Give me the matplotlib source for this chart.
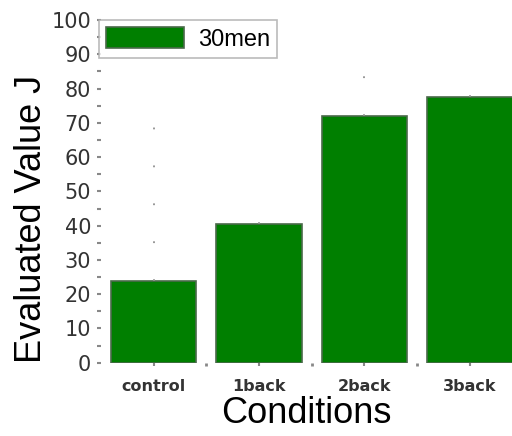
import matplotlib.pyplot as plt
import numpy as np

# Evaluated value J per condition (30 men)
conditions = ["control", "1back", "2back", "3back"]
values = [24, 40.5, 72, 77.5]
errors = [46, 8, 14, 7]
y_ticks = [0, 10, 20, 30, 40, 50, 60, 70, 80, 90, 100]

fig = plt.figure(figsize=(5.12, 4.36), dpi=100)
ax = fig.add_axes([0.197, 0.168, 0.803, 0.786])

x = np.arange(len(conditions))
bars = ax.bar(x, values, width=0.81, color="#007f00", edgecolor="#4a6a4a",
              linewidth=1.2, label="30men", zorder=2)
eb = ax.errorbar(x, values, yerr=[np.zeros(len(values)), errors], fmt="none",
                 ecolor="#909090", elinewidth=1.3, capsize=0, zorder=3)
eb[2][0].set_linestyle((0, (1, 20)))

ax.set_xlim(-0.5, 3.4)
ax.set_ylim(0, 100)
ax.set_yticks(y_ticks)
ax.set_yticks(np.arange(5, 100, 10), minor=True)
ax.set_xticks(x)
ax.set_xticklabels(conditions)
ax.set_xticks([0.5, 1.5, 2.5], minor=True)

for s in ax.spines.values():
    s.set_visible(False)

ax.tick_params(axis="y", which="both", length=3, width=1.5, color="#888888",
               labelsize=15, labelcolor="#333333", pad=4)
ax.tick_params(axis="x", which="major", length=2, width=1.5, color="#888888",
               labelsize=11.5, labelcolor="#333333", pad=10)
ax.tick_params(axis="x", which="minor", length=2, width=2, color="#888888")
for lbl in ax.get_xticklabels():
    lbl.set_fontweight("bold")

ax.set_ylabel("Evaluated Value J", fontsize=26, family="Liberation Sans")
ax.yaxis.set_label_coords(-0.125, 0.42)
ax.set_xlabel("Conditions", fontsize=26, family="Liberation Sans", labelpad=1)

leg = ax.legend(loc="upper left", bbox_to_anchor=(-0.005, 1.0),
                prop={"family": "Liberation Sans", "size": 17},
                frameon=True, fancybox=False, borderpad=0.3,
                handlelength=3.3, handleheight=1.0, handletextpad=0.6,
                borderaxespad=0.0)
leg.get_frame().set_edgecolor("#aaaaaa")
leg.get_frame().set_linewidth(1.2)

fig.savefig("out.png", dpi=100)
